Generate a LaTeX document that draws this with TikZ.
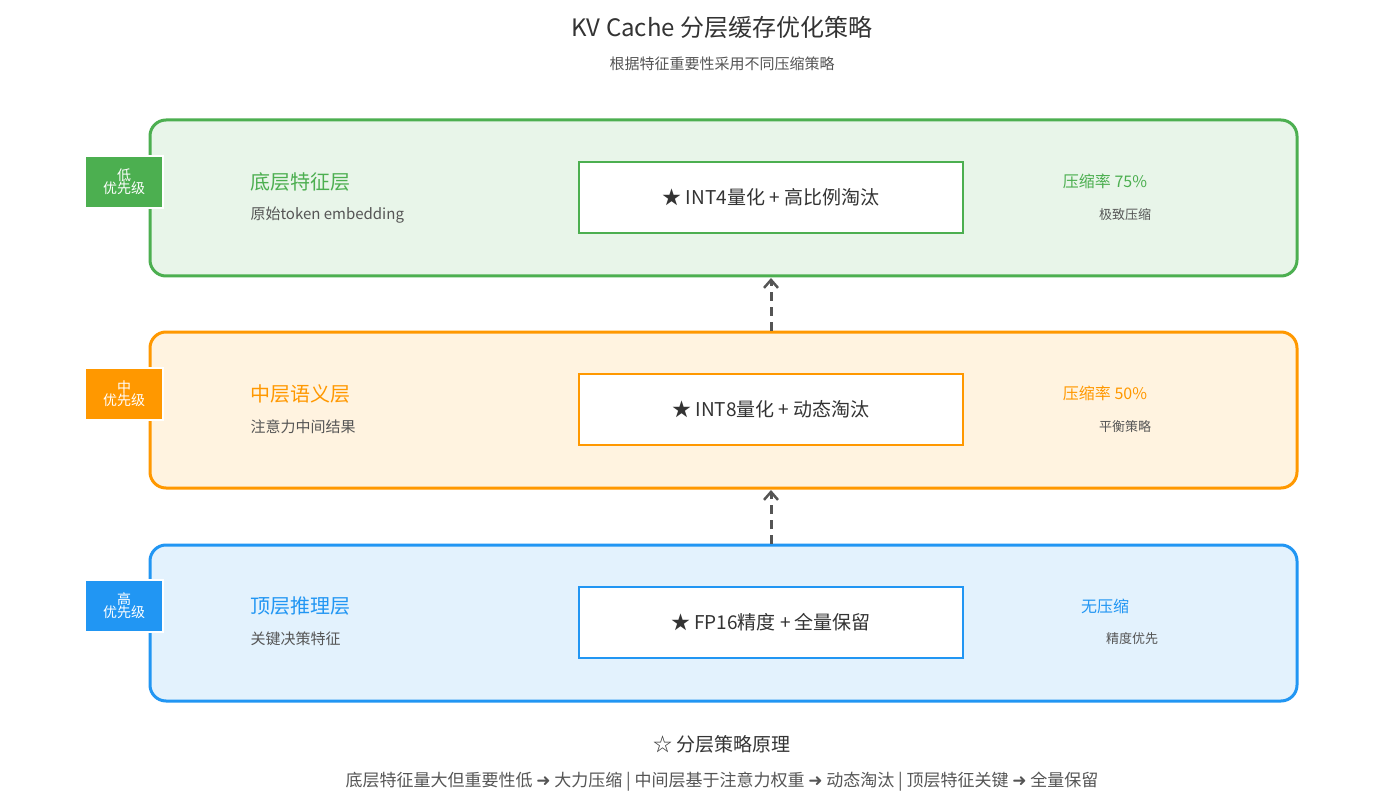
\documentclass[tikz,border=0pt]{standalone}
\usepackage{fontspec}
\setmainfont{Noto Sans CJK SC}
\newfontfamily\dejavu{DejaVu Sans}
\usetikzlibrary{arrows.meta}
\definecolor{gA}{HTML}{4CAF50}\definecolor{gF}{HTML}{E8F5E9}
\definecolor{oA}{HTML}{FF9800}\definecolor{oF}{HTML}{FFF3E0}
\definecolor{bA}{HTML}{2196F3}\definecolor{bF}{HTML}{E3F2FD}
\definecolor{txt}{HTML}{333333}\definecolor{sub}{HTML}{555555}
\tikzset{
 layer/.style={draw=#1,line width=3pt,rounded corners=16pt},
 badge/.style={fill=#1,draw=white,line width=2pt,text=white,font=\fontsize{14}{15}\selectfont,align=center,minimum width=78pt,minimum height=52pt,inner sep=0pt},
 mid/.style={draw=#1,fill=white,line width=2pt,minimum width=384pt,minimum height=71pt,font=\fontsize{19}{22}\selectfont,text=txt},
 ttl/.style={anchor=west,text=#1,font=\fontsize{20}{22}\selectfont},
 dsc/.style={anchor=west,text=sub,font=\fontsize{15}{17}\selectfont},
 rate/.style={text=#1,font=\fontsize{16}{18}\selectfont},
 note/.style={text=sub,font=\fontsize{13}{15}\selectfont},
 conn/.style={draw=sub,line width=3pt,dashed,dash pattern=on 9pt off 6pt,-{Straight Barb[length=8pt,width=14pt,line width=2.5pt]}}
}
\begin{document}
\begin{tikzpicture}[x=1pt,y=-1pt]
\useasboundingbox[fill=white] (0,0) rectangle (1400,810);
\node[text=txt,font=\fontsize{24}{26}\selectfont] (title) at (722,27) {KV Cache 分层缓存优化策略};
\node[text=sub,font=\fontsize{15}{17}\selectfont] (subtitle) at (722,64) {根据特征重要性采用不同压缩策略};
% layers
\draw[layer=gA,fill=gF] (150,120) rectangle (1297,276);
\draw[layer=oA,fill=oF] (150,332) rectangle (1297,488);
\draw[layer=bA,fill=bF] (150,545) rectangle (1297,701);
\node[badge=gA] (b1) at (124,182) {低\\[-2pt]优先级};
\node[badge=oA] (b2) at (124,394) {中\\[-2pt]优先级};
\node[badge=bA] (b3) at (124,606) {高\\[-2pt]优先级};
\node[ttl=gA] (t1) at (247,182) {底层特征层};
\node[dsc] (d1) at (247,215) {原始token embedding};
\node[ttl=oA] (t2) at (247,394) {中层语义层};
\node[dsc] (d2) at (247,427) {注意力中间结果};
\node[ttl=bA] (t3) at (247,606) {顶层推理层};
\node[dsc] (d3) at (247,639) {关键决策特征};
\node[mid=gA] (m1) at (771,197.5) {★ INT4量化 + 高比例淘汰};
\node[mid=oA] (m2) at (771,409.5) {★ INT8量化 + 动态淘汰};
\node[mid=bA] (m3) at (771,622.5) {★ FP16精度 + 全量保留};
\node[rate=gA] (r1) at (1105,181) {压缩率 75\%};
\node[note] (n1) at (1125,215) {极致压缩};
\node[rate=oA] (r2) at (1105,393) {压缩率 50\%};
\node[note] (n2) at (1125,427) {平衡策略};
\node[rate=bA] (r3) at (1105,606) {无压缩};
\node[note] (n3) at (1132,639) {精度优先};
\coordinate (a1s) at (771,331); \coordinate (a1e) at (771,278);
\coordinate (a2s) at (771,544); \coordinate (a2e) at (771,490);
\draw[conn] (a1s) -- (a1e);
\draw[conn] (a2s) -- (a2e);
\node[text=txt,font=\fontsize{19}{21}\selectfont] (p) at (722,744) {☆ 分层策略原理};
\node[text=sub,font=\fontsize{17}{19}\selectfont] (pl) at (722,782) {底层特征量大但重要性低 {\dejavu ➜} 大力压缩 \textbar{} 中间层基于注意力权重 {\dejavu ➜} 动态淘汰 \textbar{} 顶层特征关键 {\dejavu ➜} 全量保留};
\end{tikzpicture}
\end{document}
